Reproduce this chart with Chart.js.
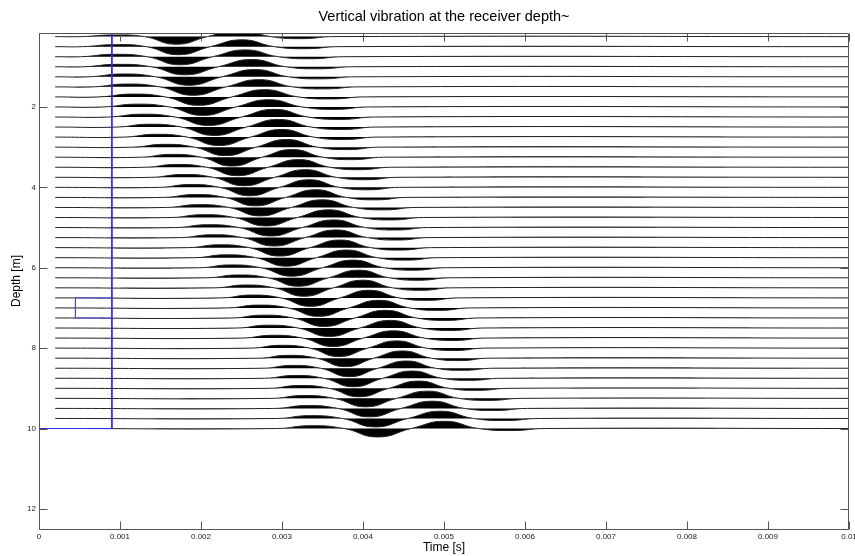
<!DOCTYPE html>
<html>
<head>
<meta charset="utf-8">
<title>Vertical vibration</title>
<script src="https://cdn.jsdelivr.net/npm/chart.js@4.4.1/dist/chart.umd.min.js"></script>
<style>
  html, body { margin: 0; padding: 0; background: #fff; }
</style>
</head>
<body>
<canvas id="grafico" width="855" height="556"></canvas>
<script>

// receiver depths [m], one trace each
const depths = [
  0.25, 0.5, 0.75, 1.0, 1.25, 1.5, 1.75, 2.0, 2.25, 2.5,
  2.75, 3.0, 3.25, 3.5, 3.75, 4.0, 4.25, 4.5, 4.75, 5.0,
  5.25, 5.5, 5.75, 6.0, 6.25, 6.5, 6.75, 7.0, 7.25, 7.5,
  7.75, 8.0, 8.25, 8.5, 8.75, 9.0, 9.25, 9.5, 9.75, 10.0
];

// time of the main trough and of the main peak on each trace [s]
const troughTime = [
  0.00169, 0.00172, 0.00174, 0.00180, 0.00185, 0.00190, 0.00197, 0.00202, 0.00209, 0.00216,
  0.00222, 0.00230, 0.00238, 0.00245, 0.00253, 0.00260, 0.00267, 0.00273, 0.00280, 0.00286,
  0.00290, 0.00297, 0.00305, 0.00312, 0.00320, 0.00327, 0.00335, 0.00345, 0.00352, 0.00358,
  0.00363, 0.00370, 0.00378, 0.00383, 0.00388, 0.00395, 0.00403, 0.00408, 0.00415, 0.00418
];
const peakTime = [
  0.00247, 0.00251, 0.00255, 0.00263, 0.00267, 0.00272, 0.00279, 0.00284, 0.00291, 0.00296,
  0.00300, 0.00306, 0.00313, 0.00321, 0.00329, 0.00334, 0.00342, 0.00350, 0.00358, 0.00364,
  0.00367, 0.00372, 0.00380, 0.00388, 0.00395, 0.00400, 0.00408, 0.00420, 0.00428, 0.00434,
  0.00438, 0.00442, 0.00449, 0.00454, 0.00461, 0.00469, 0.00480, 0.00486, 0.00496, 0.00501
];

// lobe amplitudes, in depth units [m]
const troughAmp = [
  0.19, 0.20, 0.20, 0.20, 0.21, 0.21, 0.21, 0.21, 0.21, 0.21,
  0.21, 0.21, 0.22, 0.21, 0.21, 0.21, 0.21, 0.21, 0.21, 0.21,
  0.21, 0.21, 0.21, 0.21, 0.21, 0.21, 0.21, 0.21, 0.21, 0.21,
  0.21, 0.21, 0.21, 0.21, 0.21, 0.21, 0.21, 0.21, 0.21, 0.21
];
const peakAmp = [
  0.18, 0.17, 0.17, 0.18, 0.18, 0.18, 0.18, 0.18, 0.19, 0.19,
  0.19, 0.19, 0.19, 0.19, 0.19, 0.19, 0.19, 0.19, 0.19, 0.19,
  0.19, 0.19, 0.19, 0.19, 0.19, 0.19, 0.19, 0.19, 0.19, 0.19,
  0.18, 0.18, 0.18, 0.18, 0.18, 0.18, 0.18, 0.18, 0.18, 0.18
];
const leadAmp = [
  0.04, 0.05, 0.06, 0.06, 0.07, 0.07, 0.07, 0.07, 0.07, 0.07,
  0.07, 0.07, 0.07, 0.07, 0.07, 0.07, 0.07, 0.07, 0.07, 0.07,
  0.07, 0.07, 0.07, 0.07, 0.07, 0.07, 0.07, 0.07, 0.07, 0.07,
  0.07, 0.07, 0.07, 0.07, 0.07, 0.07, 0.07, 0.07, 0.07, 0.07
];
const tailAmp = [
  0.05, 0.05, 0.05, 0.05, 0.05, 0.05, 0.05, 0.06, 0.06, 0.06,
  0.06, 0.06, 0.06, 0.06, 0.06, 0.06, 0.06, 0.06, 0.06, 0.06,
  0.06, 0.06, 0.06, 0.06, 0.06, 0.06, 0.06, 0.06, 0.06, 0.06,
  0.06, 0.06, 0.06, 0.05, 0.05, 0.05, 0.05, 0.05, 0.05, 0.05
];

const traceStart = 0.0002;
const traceEnd = 0.01;

const timeTicks = [0, 0.001, 0.002, 0.003, 0.004, 0.005, 0.006, 0.007, 0.008, 0.009, 0.01];
const timeLabels = ['0', '0.001', '0.002', '0.003', '0.004', '0.005', '0.006', '0.007', '0.008', '0.009', '0.01'];
const depthTicks = [2, 4, 6, 8, 10, 12];
const depthMin = 0.16;
const depthMax = 12.5;

// blue marker lines
const markerTime = [0.0009, 0.0009, 0];
const markerDepth = [depthMin, 10, 10];
const bracketTime = [0.0009, 0.00045, 0.00045, 0.0009];
const bracketDepth = [6.75, 6.75, 7.25, 7.25];

const fuente = 'Liberation Sans, Arial, Helvetica, sans-serif';

// one wiggle: lead lobe, trough, peak, tail lobe, zero crossings between them
function puntosTraza(i) {
  const d = depths[i];
  const t1 = troughTime[i];
  const t2 = peakTime[i];
  const paso = t2 - t1;
  const t0 = t1 - paso;
  const t3 = t2 + paso;
  return [
    {x: traceStart, y: d},
    {x: t0 - paso / 2, y: d},
    {x: t0, y: d - leadAmp[i]},
    {x: (t0 + t1) / 2, y: d},
    {x: t1, y: d + troughAmp[i]},
    {x: (t1 + t2) / 2, y: d},
    {x: t2, y: d - peakAmp[i]},
    {x: (t2 + t3) / 2, y: d},
    {x: t3, y: d + tailAmp[i]},
    {x: t3 + paso / 2, y: d},
    {x: traceEnd, y: d}
  ];
}

const trazas = depths.map((d, i) => ({
  data: puntosTraza(i),
  borderColor: '#222',
  backgroundColor: '#000',
  borderWidth: 1,
  pointRadius: 0,
  tension: 0.5,
  fill: {value: d},
  order: 1
}));

const marcadores = [
  {
    data: markerTime.map((t, i) => ({x: t, y: markerDepth[i]})),
    borderColor: '#2a2aff',
    borderWidth: 1,
    pointRadius: 0,
    fill: false,
    order: 0
  },
  {
    data: bracketTime.map((t, i) => ({x: t, y: bracketDepth[i]})),
    borderColor: '#4a4ad8',
    borderWidth: 1,
    pointRadius: 0,
    fill: false,
    order: 0
  }
];

// axes box with inward ticks on all four sides
const marcoEjes = {
  id: 'marcoEjes',
  afterDatasetsDraw(chart) {
    const {ctx, chartArea: a, scales: {x, y}} = chart;
    const l = Math.round(a.left) + 0.5;
    const r = Math.round(a.right) - 0.5;
    const t = Math.round(a.top) + 0.5;
    const b = Math.round(a.bottom) + 0.5;
    const largo = 8;
    ctx.save();
    ctx.strokeStyle = '#555';
    ctx.lineWidth = 1;
    ctx.beginPath();
    ctx.rect(l, t, r - l, b - t);
    timeTicks.forEach(v => {
      const px = Math.round(x.getPixelForValue(v)) + 0.5;
      ctx.moveTo(px, b);
      ctx.lineTo(px, b - largo);
      ctx.moveTo(px, t);
      ctx.lineTo(px, t + largo);
    });
    depthTicks.forEach(v => {
      const py = Math.round(y.getPixelForValue(v)) + 0.5;
      ctx.moveTo(l, py);
      ctx.lineTo(l + largo, py);
      ctx.moveTo(r, py);
      ctx.lineTo(r - largo, py);
    });
    ctx.stroke();
    ctx.restore();
  }
};

new Chart(document.querySelector('#grafico'), {
  type: 'line',
  data: {
    datasets: marcadores.concat(trazas)
  },
  options: {
    responsive: false,
    animation: false,
    events: [],
    layout: {
      padding: {top: 0, left: 0, right: 6, bottom: 0}
    },
    scales: {
      x: {
        type: 'linear',
        min: 0,
        max: 0.01,
        afterBuildTicks: s => { s.ticks = timeTicks.map(v => ({value: v})); },
        afterFit: s => { s.height = 27; s.paddingLeft = 0; s.paddingRight = 0; },
        grid: {display: false, drawTicks: false},
        border: {display: false},
        ticks: {
          autoSkip: false,
          maxRotation: 0,
          padding: 3,
          color: '#222',
          font: {family: fuente, size: 8},
          callback: (v, i) => timeLabels[i]
        },
        title: {
          display: true,
          text: 'Time [s]',
          color: '#000',
          font: {family: fuente, size: 12},
          padding: {top: 0, bottom: 1}
        }
      },
      y: {
        type: 'linear',
        reverse: true,
        min: depthMin,
        max: depthMax,
        afterBuildTicks: s => { s.ticks = depthTicks.map(v => ({value: v})); },
        afterFit: s => { s.width = 39; s.paddingTop = 0; s.paddingBottom = 0; },
        grid: {display: false, drawTicks: false},
        border: {display: false},
        ticks: {
          autoSkip: false,
          padding: 3,
          color: '#222',
          font: {family: fuente, size: 8},
          callback: v => String(v)
        },
        title: {
          display: true,
          text: 'Depth [m]',
          color: '#000',
          font: {family: fuente, size: 12},
          padding: {top: 9, bottom: 0}
        }
      }
    },
    plugins: {
      legend: {display: false},
      tooltip: {enabled: false},
      title: {
        display: true,
        fullSize: false,
        text: 'Vertical vibration at the receiver depth~',
        color: '#000',
        font: {family: fuente, size: 14.5, weight: 'normal'},
        padding: {top: 8, bottom: 7.6}
      }
    }
  },
  plugins: [marcoEjes]
});
</script>
</body>
</html>
